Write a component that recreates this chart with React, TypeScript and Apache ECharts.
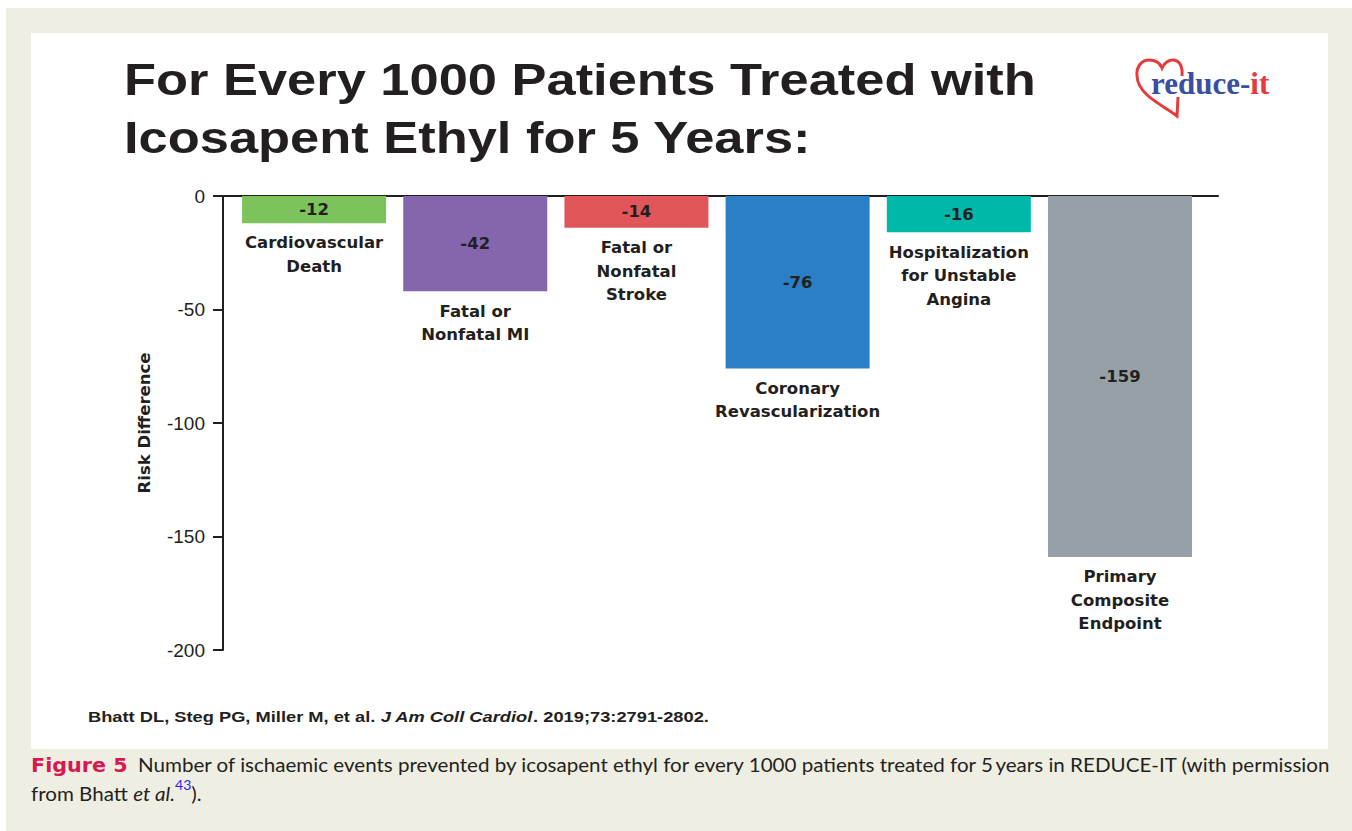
import React, { useEffect, useRef } from "react";
import * as echarts from "echarts";

// Chart data: events prevented per 1000 patients over 5 years
const categories = [
  "Cardiovascular\nDeath",
  "Fatal or\nNonfatal MI",
  "Fatal or\nNonfatal\nStroke",
  "Coronary\nRevascularization",
  "Hospitalization\nfor Unstable\nAngina",
  "Primary\nComposite\nEndpoint",
];
const riskDifference = [-12, -42, -14, -76, -16, -159];
const barColors = ["#7dc35c", "#8566ad", "#e15759", "#2b7fc6", "#00b8a9", "#98a0a7"];

const yMin = -200;
const yMax = 0;
const yStep = 50;

const titleLines = ["For Every 1000 Patients Treated with", "Icosapent Ethyl for 5 Years:"];
const citation = ["Bhatt DL, Steg PG, Miller M, et al. ", "J Am Coll Cardiol", ". 2019;73:2791-2802."];
const captionLabel = "Figure 5";
const captionLine1 =
  "Number of ischaemic events prevented by icosapent ethyl for every 1000 patients treated for 5\u2009years in REDUCE-IT (with permission";

const INK = "#231f20";
const BOLD_FONT = "'DejaVu Sans', sans-serif";
const HEART_PATH =
  "M43 37 L42 56 C30 46 3 36 2 16 C1 5 8 0 14 0 C20 0 25 3 27 8 C30 2 34 0 38 0 C44 0 48 6 47 16";

let heartRegistered = false;

export default function App() {
  const ref = useRef<HTMLDivElement>(null);

  useEffect(() => {
    if (!ref.current) return;
    if (!heartRegistered) {
      echarts.graphic.registerShape("logo", echarts.graphic.extendPath(HEART_PATH, {}));
      heartRegistered = true;
    }
    const chart = echarts.init(ref.current, null, { renderer: "svg" });

    const barData = riskDifference.map((v, i) => ({
      value: [i, v],
      itemStyle: { color: barColors[i] },
    }));

    const captionText = {
      t: { fill: INK, font: "19px Lato, sans-serif", lineHeight: 29 },
      i: { fill: INK, font: "italic 19px Lato, sans-serif", lineHeight: 29 },
      s: { fill: "#2727f0", font: "13px Lato, sans-serif", lineHeight: 29, verticalAlign: "top" },
    };

    chart.setOption({
      animation: false,
      backgroundColor: "#ffffff",
      grid: { left: 223, right: 134, top: 196, bottom: 181, containLabel: false },
      xAxis: {
        type: "value",
        position: "top",
        min: -0.565,
        max: 5.608,
        axisLine: { show: true, onZero: false, lineStyle: { color: INK, width: 2 } },
        axisTick: { show: false },
        axisLabel: { show: false },
        splitLine: { show: false },
      },
      yAxis: {
        type: "value",
        min: yMin,
        max: yMax,
        interval: yStep,
        name: "Risk Difference",
        nameLocation: "middle",
        nameGap: 70,
        nameTextStyle: {
          color: INK,
          fontFamily: BOLD_FONT,
          fontWeight: "bold",
          fontSize: 16.5,
        },
        axisLine: { show: true, onZero: false, lineStyle: { color: INK, width: 2 } },
        axisTick: { show: true, length: 10, lineStyle: { color: INK, width: 2 } },
        axisLabel: {
          color: INK,
          fontFamily: "'Liberation Sans', Arial, sans-serif",
          fontSize: 19,
          margin: 18,
        },
        splitLine: { show: false },
      },
      series: [
        {
          type: "bar",
          data: barData,
          barWidth: 144,
          barGap: "-100%",
          label: {
            show: true,
            position: "inside",
            color: INK,
            fontFamily: BOLD_FONT,
            fontWeight: "bold",
            fontSize: 16.5,
            formatter: (p: any) => String(p.value[1]),
          },
          z: 2,
        },
        {
          type: "bar",
          data: riskDifference.map((v, i) => ({ value: [i, v] })),
          barWidth: 144,
          barGap: "-100%",
          itemStyle: { color: "rgba(0,0,0,0)" },
          label: {
            show: true,
            position: "bottom",
            distance: 8,
            color: INK,
            fontFamily: BOLD_FONT,
            fontWeight: "bold",
            fontSize: 16.5,
            lineHeight: 23.5,
            align: "center",
            formatter: (p: any) => categories[p.dataIndex],
          },
          z: 3,
        },
      ],
      graphic: [
        // page background and white panel
        { type: "rect", shape: { x: 6, y: 8, width: 1346, height: 823 }, style: { fill: "#efeee3" }, z: -10 },
        { type: "rect", shape: { x: 31, y: 33, width: 1297, height: 716 }, style: { fill: "#ffffff" }, z: -9 },
        // headline
        ...titleLines.map((line, i) => ({
          type: "text",
          x: 124,
          y: 79 + i * 58,
          scaleX: 1.165,
          style: {
            text: line,
            fill: INK,
            font: "bold 45px 'Liberation Sans', Arial, sans-serif",
            verticalAlign: "middle",
            align: "left",
          },
        })),
        // logo
        {
          type: "logo",
          x: 1135,
          y: 60,
          style: { stroke: "#e63a3c", lineWidth: 3, fill: "none" },
        },
        {
          type: "text",
          x: 1151,
          y: 83,
          style: {
            text: "{a|reduce-}{b|it}",
            verticalAlign: "middle",
            rich: {
              a: { fill: "#3a4f9f", font: "bold 31px 'Liberation Serif', serif" },
              b: { fill: "#e63a3c", font: "bold 31px 'Liberation Serif', serif" },
            },
          },
        },
        // reference line
        {
          type: "text",
          x: 88,
          y: 717,
          scaleX: 1.18,
          style: {
            text: `{b|${citation[0]}}{i|${citation[1]}}{b|${citation[2]}}`,
            verticalAlign: "middle",
            rich: {
              b: { fill: INK, font: "bold 15.5px 'Liberation Sans', Arial, sans-serif" },
              i: { fill: INK, font: "italic bold 15.5px 'Liberation Sans', Arial, sans-serif" },
            },
          },
        },
        // figure caption
        {
          type: "text",
          x: 31,
          y: 766,
          scaleX: 1.09,
          style: {
            text: captionLabel,
            fill: "#d7194f",
            font: "bold 19px 'DejaVu Sans', sans-serif",
            verticalAlign: "middle",
          },
        },
        {
          type: "text",
          x: 138,
          y: 750,
          scaleX: 1.083,
          style: {
            text: `{t|${captionLine1}}`,
            verticalAlign: "top",
            rich: captionText,
          },
        },
        {
          type: "text",
          x: 31,
          y: 779,
          scaleX: 1.083,
          style: {
            text: "{t|from Bhatt }{i|et al.}{s|43}{t|).}",
            verticalAlign: "top",
            rich: captionText,
          },
        },
      ],
    });

    return () => chart.dispose();
  }, []);

  return (
    <div
      ref={ref}
      style={{ position: "absolute", left: 0, top: 0, width: 1352, height: 831 }}
    />
  );
}
